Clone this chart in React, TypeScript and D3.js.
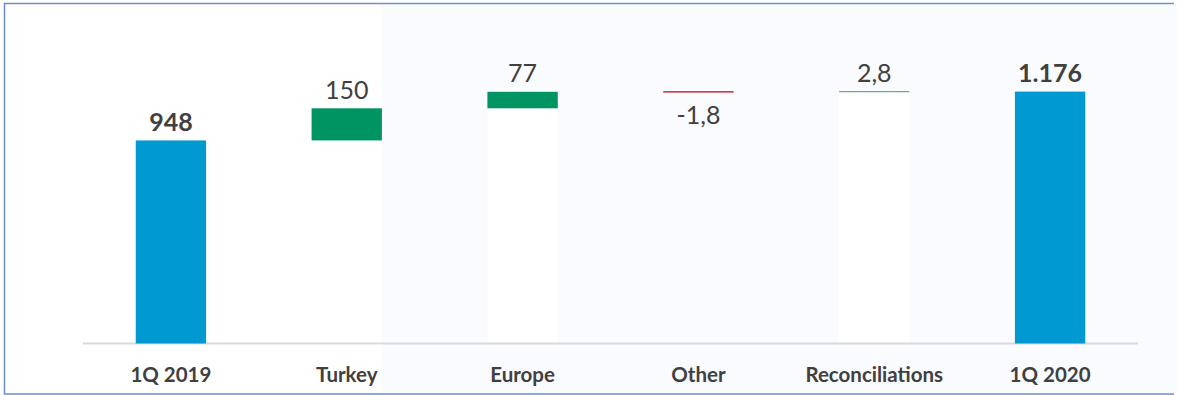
import React from "react";
import * as d3 from "d3";

const categories = ["1Q 2019", "Turkey", "Europe", "Other", "Reconciliations", "1Q 2020"];
const values = [948, 150, 77, -1.8, 2.8, 1176];
const valueLabels = ["948", "150", "77", "-1,8", "2,8", "1.176"];
const isTotal = [true, false, false, false, false, true];

const W = 1178;
const H = 395;
const BLUE = "#0099d1";
const GREEN = "#009462";
const RED = "#c00000";
const LINE_GREEN = "#63b390";
const TEXT = "#404040";
const FONT = "Lato, 'Open Sans', sans-serif";

export default function App() {
  const x = d3.scaleBand<string>().domain(categories).range([83, 1138]).paddingInner(0.6).paddingOuter(0.3);
  const y = d3.scaleLinear().domain([0, 1400]).range([343.5, 43.6]);

  let running = 0;
  const segs = categories.map((c, i) => {
    const v = values[i];
    let start: number, end: number;
    if (isTotal[i]) {
      start = 0;
      end = v;
      running = v;
    } else {
      start = running;
      end = running + v;
      running = end;
    }
    return { c, v, start, end, total: isTotal[i], label: valueLabels[i] };
  });

  const bw = x.bandwidth();

  return (
    <svg width={W} height={H} style={{ position: "absolute", left: 0, top: 0, display: "block", background: "#fff" }}>
      <rect x={0} y={0} width={W} height={H} fill="#ffffff" />
      {/* faint background watermark area */}
      <rect x={382} y={5} width={W - 382} height={388} fill="#fafbfe" />
      {/* white invisible base bars */}
      {segs.map((s, i) =>
        !s.total && s.v > 0 ? (
          <rect key={"b" + i} x={x(s.c)} y={y(Math.min(s.start, s.end))} width={bw} height={y(0) - y(Math.min(s.start, s.end))} fill="#ffffff" />
        ) : null
      )}
      {/* baseline */}
      <line x1={83} x2={1138} y1={343.5} y2={343.5} stroke="#d9d9d9" strokeWidth={2} />
      {/* bars */}
      {segs.map((s, i) => {
        const top = y(Math.max(s.start, s.end));
        const bot = y(Math.min(s.start, s.end));
        const h = bot - top;
        const x0 = x(s.c) as number;
        if (!s.total && h < 2) {
          const col = s.v < 0 ? RED : LINE_GREEN;
          return <line key={"r" + i} x1={x0} x2={x0 + bw} y1={top} y2={top} stroke={col} strokeWidth={1.2} />;
        }
        return <rect key={"r" + i} x={x0} y={top} width={bw} height={h} fill={s.total ? BLUE : GREEN} />;
      })}
      {/* value labels */}
      {segs.map((s, i) => {
        const cx = (x(s.c) as number) + bw / 2;
        const top = y(Math.max(s.start, s.end));
        const bot = y(Math.min(s.start, s.end));
        const ly = s.v < 0 ? bot + 32 : top - 9.5;
        return (
          <text key={"l" + i} x={cx} y={ly} textAnchor="middle" fontFamily={FONT} fontSize={25} fontWeight={s.total ? 700 : 400} fill={TEXT}>
            {s.label}
          </text>
        );
      })}
      {/* category labels */}
      {categories.map((c, i) => (
        <text key={"c" + i} x={(x(c) as number) + bw / 2} y={381.5} textAnchor="middle" fontFamily={FONT} fontSize={20.5} fontWeight={700} fill={TEXT}>
          {c}
        </text>
      ))}
      {/* frame */}
      <path d="M1174,3.5 H4.5 V394 H1174" fill="none" stroke="#6790cc" strokeWidth={1.5} />
    </svg>
  );
}
